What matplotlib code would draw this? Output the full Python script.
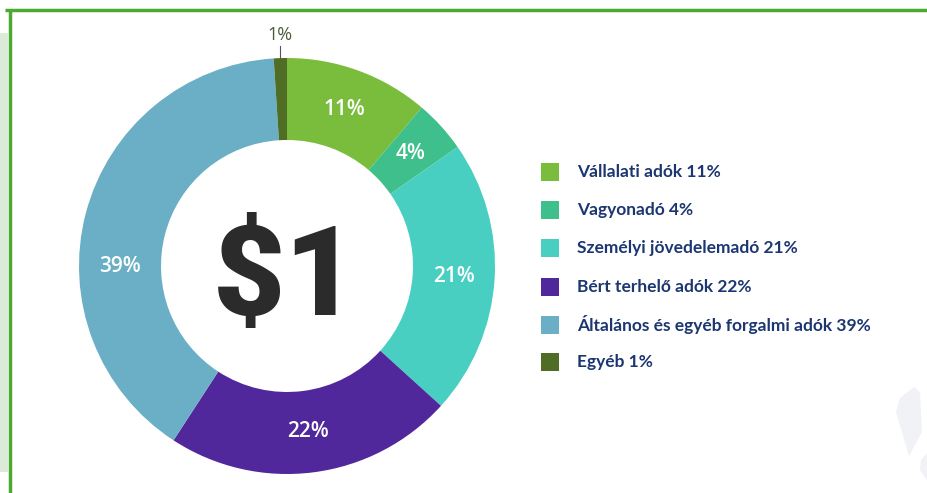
import numpy as np
import matplotlib
matplotlib.use('Agg')
import matplotlib.pyplot as plt
from matplotlib.patches import Rectangle, Polygon

labels = ['Vállalati adók 11%', 'Vagyonadó 4%', 'Személyi jövedelemadó 21%',
          'Bért terhelő adók 22%', 'Általános és egyéb forgalmi adók 39%', 'Egyéb 1%']
values = [11, 4, 21, 22, 39, 1]
pct_text = ['11%', '4%', '21%', '22%', '39%', '1%']
colors = ['#7abd3c', '#3ebf8c', '#48cfc2', '#50289b', '#6aafc5', '#4f6d25']

W, H = 928, 493
fig = plt.figure(figsize=(W / 100, H / 100), dpi=100)
ax = fig.add_axes([0, 0, 1, 1])

cx, cy, R, r_in = 287, H - 266, 208, 126

wedges, _ = ax.pie(values, colors=colors, startangle=90, counterclock=False,
                   center=(cx, cy), radius=R, frame=True,
                   wedgeprops=dict(width=R - r_in, linewidth=0))

label_font = ['Open Sans', 'DejaVu Sans']
mid_r = (R + r_in) / 2
for w, txt in zip(wedges, pct_text):
    ang = np.deg2rad((w.theta1 + w.theta2) / 2)
    if txt == '39%':
        # the original places this label level with the centre
        ang = np.pi
    if txt == '1%':
        x0, y0 = cx + R * np.cos(ang), cy + R * np.sin(ang)
        ax.plot([x0, x0], [y0, y0 + 12], color='#555555', lw=0.8)
        ax.text(x0, y0 + 23, txt, ha='center', va='center', fontsize=13,
                color='#4a5a3a', family=label_font)
    else:
        ax.text(cx + mid_r * np.cos(ang), cy + mid_r * np.sin(ang), txt,
                ha='center', va='center', fontsize=15, fontweight='semibold',
                color='white', family=label_font)

ax.text(cx - 2, cy - 2, '$1', ha='center', va='center_baseline', fontsize=90,
        fontweight='heavy', color='#2b2b2b',
        family=['Roboto', 'DejaVu Sans'])

# legend
leg_y = [172, 210, 248, 287, 325, 362]
for yy, c, lab in zip(leg_y, colors, labels):
    ax.add_patch(Rectangle((541, H - yy - 9), 18, 18, color=c, lw=0))
    ax.text(577, H - yy, lab, ha='left', va='center', fontsize=12.5,
            fontweight='bold', color='#1c3672', family=['Lato', 'DejaVu Sans'])

# frame decorations
ax.add_patch(Rectangle((0, H - 472), 8, 439, color='#dcebd8', lw=0))
ax.plot([5, W], [H - 10, H - 10], color='#4caa32', lw=2.5, solid_capstyle='butt')
ax.plot([10, 10], [0, H - 10], color='#4caa32', lw=2.5, solid_capstyle='butt')

# faint watermark shapes bottom right
ax.add_patch(Polygon([(914, H - 387), (920, H - 392), (922, H - 432), (909, H - 456),
                      (896, H - 412), (900, H - 398)], closed=True, color='#f1f2f6', lw=0))
ax.add_patch(Polygon([(928, H - 452), (928, H - 482), (920, H - 470), (921, H - 460)],
                     closed=True, color='#f1f2f6', lw=0))

ax.set_xlim(0, W)
ax.set_ylim(0, H)
ax.set_aspect('auto')
ax.axis('off')

fig.savefig('out.png', dpi=100)
